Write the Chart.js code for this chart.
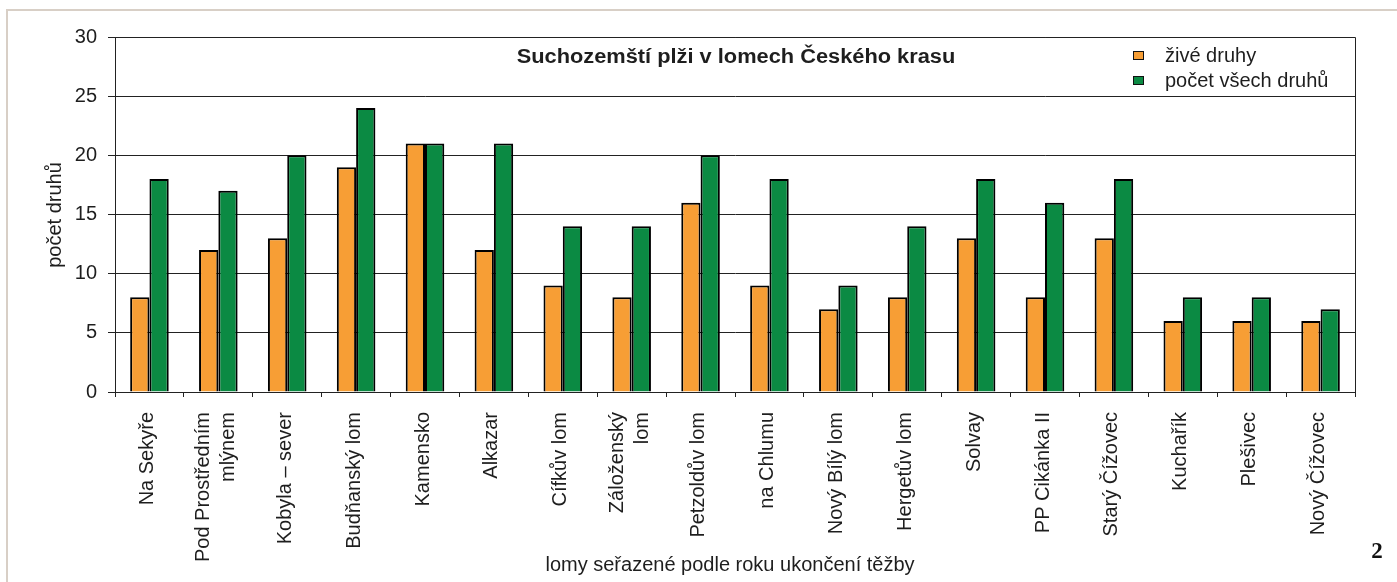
<!DOCTYPE html>
<html>
<head>
<meta charset="utf-8">
<script src="https://cdn.jsdelivr.net/npm/chart.js@4.4.0/dist/chart.umd.min.js"></script>
<style>
  html, body { margin: 0; padding: 0; background: #fff; }
  #wrap { width: 1397px; height: 582px; position: relative; }
</style>
</head>
<body>
<div id="wrap"><canvas id="snailChart" width="1397" height="582"></canvas></div>
<script>
// Data
const quarries = [
  'Na Sekyře', ['Pod Prostředním', 'mlýnem'], 'Kobyla – sever', 'Budňanský lom', 'Kamensko',
  'Alkazar', 'Cífkův lom', ['Záloženský', 'lom'], 'Petzoldův lom', 'na Chlumu',
  'Nový Bílý lom', 'Hergetův lom', 'Solvay', 'PP Cikánka II', 'Starý Čížovec',
  'Kuchařík', 'Plešivec', 'Nový Čížovec'
];
const liveSpecies = [8, 12, 13, 19, 21, 12, 9, 8, 16, 9, 7, 8, 13, 8, 13, 6, 6, 6];
const allSpecies = [18, 17, 20, 24, 21, 21, 14, 14, 20, 18, 9, 14, 18, 16, 18, 8, 8, 7];
const seriesNames = ['živé druhy', 'počet všech druhů'];
const yTicks = [0, 5, 10, 15, 20, 25, 30];

const colors = {
  orange: '#F79E35',
  green: '#0B8A43',
  ink: '#1e1e1e',
  line: '#222222',
  frame: '#d8cfc6'
};

const FONT = '"Liberation Sans", Arial, Helvetica, sans-serif';
Chart.defaults.font.family = FONT;
Chart.defaults.color = colors.ink;

// Category labels, titles, legend and frame drawn on top
const decorations = {
  id: 'decorations',
  afterDraw(chart) {
    const { ctx, chartArea: a } = chart;
    const xs = chart.scales.x;
    ctx.save();

    // page frame
    ctx.strokeStyle = colors.frame;
    ctx.lineWidth = 2;
    ctx.beginPath();
    ctx.moveTo(1397, 10);
    ctx.lineTo(7, 10);
    ctx.lineTo(7, 582);
    ctx.stroke();

    // plot box top + right
    ctx.strokeStyle = colors.line;
    ctx.lineWidth = 1;
    ctx.beginPath();
    ctx.moveTo(a.left, a.top + 0.5);
    ctx.lineTo(a.right + 0.5, a.top + 0.5);
    ctx.lineTo(a.right + 0.5, a.bottom);
    ctx.stroke();

    // category labels (rotated, multi-line centred on the category)
    ctx.fillStyle = colors.ink;
    ctx.font = '20px ' + FONT;
    ctx.textAlign = 'right';
    ctx.textBaseline = 'middle';
    const lineH = 25;
    chart.data.labels.forEach((lab, i) => {
      const lines = Array.isArray(lab) ? lab : [lab];
      const x = xs.getPixelForTick(i);
      lines.forEach((line, j) => {
        const off = (j - (lines.length - 1) / 2) * lineH;
        ctx.save();
        ctx.translate(x + off - 2, a.bottom + 20);
        ctx.rotate(-Math.PI / 2);
        ctx.fillText(line, 0, 0);
        ctx.restore();
      });
    });

    // chart title
    ctx.textAlign = 'center';
    ctx.save();
    ctx.translate(736, 57);
    ctx.scale(1.09, 1);
    ctx.font = 'bold 20px ' + FONT;
    ctx.fillText('Suchozemští plži v lomech Českého krasu', 0, 0);
    ctx.restore();

    // legend
    ctx.font = '20px ' + FONT;
    ctx.textAlign = 'left';
    chart.data.datasets.forEach((ds, i) => {
      const y = 56 + i * 25;
      ctx.fillStyle = ds.backgroundColor;
      ctx.fillRect(1133.5, y - 4.5, 10, 8);
      ctx.strokeStyle = '#111';
      ctx.strokeRect(1133.5, y - 4.5, 10, 8);
      ctx.fillStyle = colors.ink;
      ctx.fillText(ds.label, 1165, y);
    });

    // axis titles
    ctx.textAlign = 'center';
    ctx.fillText('lomy seřazené podle roku ukončení těžby', 730, 565);
    ctx.save();
    ctx.translate(55, 215);
    ctx.rotate(-Math.PI / 2);
    ctx.fillText('počet druhů', 0, 0);
    ctx.restore();

    // figure number
    ctx.font = 'bold 23px "Liberation Serif", "DejaVu Serif", serif';
    ctx.fillStyle = '#111';
    ctx.fillText('2', 1377, 552);

    ctx.restore();
  }
};

const ctx = document.getElementById('snailChart');
new Chart(ctx, {
  type: 'bar',
  data: {
    labels: quarries,
    datasets: [{
      label: seriesNames[0],
      data: liveSpecies,
      backgroundColor: colors.orange,
      borderColor: '#000',
      borderWidth: 2,
      categoryPercentage: 0.56,
      barPercentage: 1.0
    }, {
      label: seriesNames[1],
      data: allSpecies,
      backgroundColor: colors.green,
      borderColor: '#000',
      borderWidth: 2,
      categoryPercentage: 0.56,
      barPercentage: 1.0
    }]
  },
  options: {
    responsive: false,
    animation: false,
    devicePixelRatio: 1,
    layout: { padding: { left: 0, top: 37, right: 42, bottom: 0 } },
    plugins: {
      legend: { display: false },
      title: { display: false },
      tooltip: { enabled: false }
    },
    scales: {
      x: {
        afterFit(scale) { scale.height = 190; },
        grid: {
          offset: true,
          drawOnChartArea: false,
          drawTicks: true,
          tickLength: 5,
          color: colors.line
        },
        border: { display: true, color: colors.line, width: 1 },
        ticks: { display: false, autoSkip: false }
      },
      y: {
        min: 0,
        max: 30,
        afterFit(scale) { scale.width = 115; },
        afterBuildTicks(scale) { scale.ticks = yTicks.map(v => ({ value: v })); },
        grid: {
          color: colors.line,
          lineWidth: 1,
          drawTicks: true,
          tickLength: 7
        },
        border: { display: true, color: colors.line, width: 1 },
        ticks: {
          padding: 11,
          color: colors.ink,
          font: { size: 20 }
        }
      }
    }
  },
  plugins: [decorations]
});
</script>
</body>
</html>
